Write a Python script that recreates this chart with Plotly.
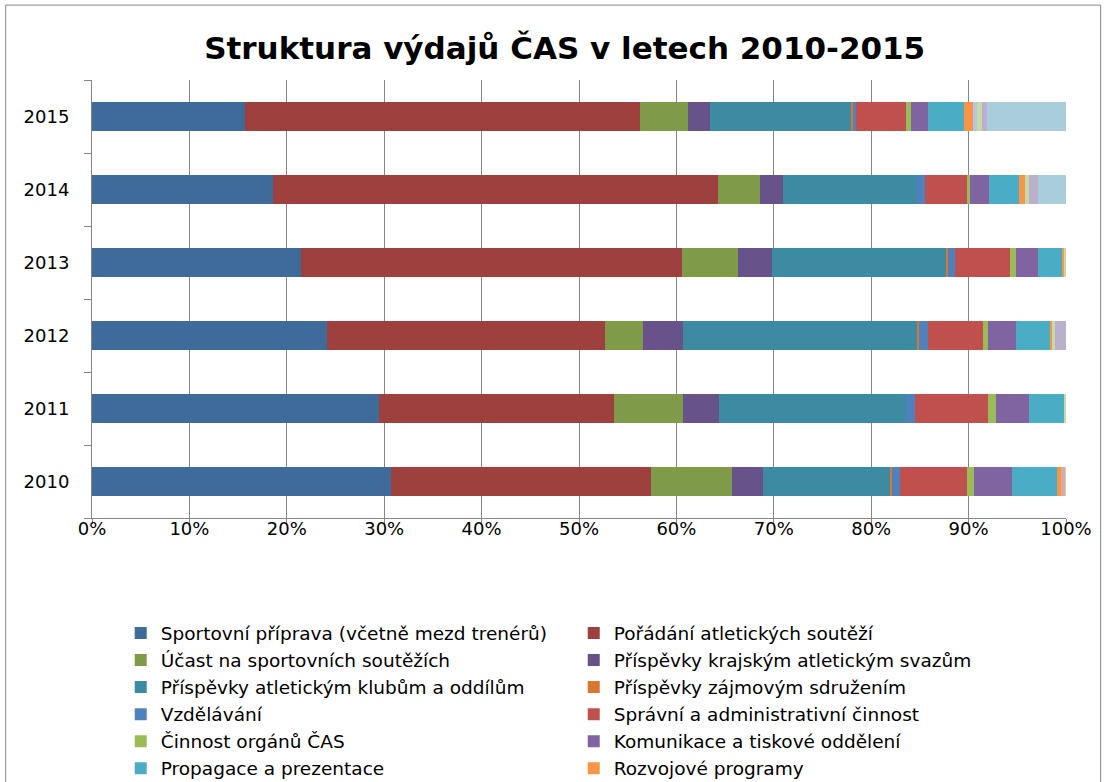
import plotly.graph_objects as go

years = ["2010", "2011", "2012", "2013", "2014", "2015"]

series_names = [
    "Sportovní příprava (včetně mezd trenérů)",
    "Pořádání atletických soutěží",
    "Účast na sportovních soutěžích",
    "Příspěvky krajským atletickým svazům",
    "Příspěvky atletickým klubům a oddílům",
    "Příspěvky zájmovým sdružením",
    "Vzdělávání",
    "Správní a administrativní činnost",
    "Činnost orgánů ČAS",
    "Komunikace a tiskové oddělení",
    "Propagace a prezentace",
    "Rozvojové programy",
    "Další položka 1",
    "Další položka 2",
    "Další položka 3",
    "Další položka 4",
    "Další položka 5",
]

# values (% share) per year, order 2010..2015
sportovni_priprava = [30.74, 29.5, 24.16, 21.5, 18.55, 15.7]
poradani_soutezi = [26.62, 24.06, 28.48, 39.04, 45.69, 40.55]
ucast_souteze = [8.32, 7.09, 3.9, 5.75, 4.31, 4.93]
prispevky_krajskym = [3.18, 3.69, 4.11, 3.49, 2.36, 2.26]
prispevky_klubum = [13.14, 19.2, 24.13, 17.97, 13.66, 14.58]
prispevky_zajmovym = [0.1, 0.0, 0.1, 0.1, 0.0, 0.2]
vzdelavani = [0.82, 0.93, 0.92, 0.75, 0.92, 0.2]
spravni_cinnost = [6.88, 7.49, 5.65, 5.6, 4.31, 5.14]
cinnost_organu = [0.72, 0.82, 0.51, 0.64, 0.31, 0.51]
komunikace = [3.9, 3.39, 2.88, 2.26, 1.95, 1.75]
propagace = [4.62, 3.6, 3.59, 2.46, 3.08, 3.7]
rozvojove_programy = [0.41, 0.0, 0.1, 0.31, 0.62, 0.95]
dalsi_1 = [0.0, 0.0, 0.0, 0.0, 0.0, 0.45]
dalsi_2 = [0.49, 0.0, 0.0, 0.0, 0.0, 0.0]
dalsi_3 = [0.06, 0.23, 0.31, 0.13, 0.41, 0.45]
dalsi_4 = [0.0, 0.0, 1.16, 0.0, 0.92, 0.51]
dalsi_5 = [0.0, 0.0, 0.0, 0.0, 2.91, 8.14]

all_values = [
    sportovni_priprava, poradani_soutezi, ucast_souteze, prispevky_krajskym,
    prispevky_klubum, prispevky_zajmovym, vzdelavani, spravni_cinnost,
    cinnost_organu, komunikace, propagace, rozvojove_programy,
    dalsi_1, dalsi_2, dalsi_3, dalsi_4, dalsi_5,
]

colors = [
    "#3F6B9B", "#9E413E", "#7F9A48", "#68528A", "#3C8BA2", "#D8772E",
    "#4F81BD", "#C0504D", "#9BBB59", "#8064A2", "#4BACC6", "#F79646",
    "#B7C5E3", "#DAA8A6", "#C6D9A9", "#B9B0CD", "#A9CDDB",
]

fig = go.Figure()
for i, (name, vals) in enumerate(zip(series_names, all_values)):
    fig.add_trace(go.Bar(
        y=years, x=vals, name=name, orientation="h",
        marker=dict(color=colors[i], line=dict(width=0)),
        showlegend=i < 12,
    ))

AX = "#868686"
fig.update_layout(
    barmode="stack",
    barnorm="percent",
    bargap=0.6,
    width=1107, height=782,
    margin=dict(l=92, r=41, t=80, b=264, autoexpand=False),
    paper_bgcolor="white", plot_bgcolor="white",
    font=dict(family="DejaVu Sans", size=18.5, color="black"),
    title=dict(
        text="<b>Struktura výdajů ČAS v letech 2010-2015</b>",
        font=dict(family="DejaVu Sans", size=31, color="black"),
        x=0.4853, xref="paper", xanchor="center",
        y=0.9386, yref="container", yanchor="middle",
    ),
    xaxis=dict(
        range=[0, 100], dtick=10, ticksuffix="%",
        showgrid=True, gridcolor=AX, gridwidth=1,
        showline=True, linecolor=AX, linewidth=1,
        ticks="outside", ticklen=5, tickcolor=AX,
        ticklabelstandoff=-11,
        zeroline=False, fixedrange=True,
        tickfont=dict(size=18),
    ),
    yaxis=dict(
        showgrid=False, showline=True, linecolor=AX, linewidth=1,
        ticks="outside", ticklen=7, tickcolor=AX, tickson="boundaries",
        ticklabelstandoff=18,
        tickfont=dict(size=18),
    ),
    legend=dict(
        orientation="h",
        x=0.0295, xanchor="left", xref="paper",
        y=-0.2203, yanchor="top", yref="paper",
        entrywidth=408, entrywidthmode="pixels",
        font=dict(size=18.5),
        traceorder="normal",
        bgcolor="rgba(0,0,0,0)",
    ),
    shapes=[dict(
        type="rect", xref="paper", yref="paper",
        x0=-0.0886, x1=1.0356, y0=-2.0, y1=1.171,
        line=dict(color=AX, width=1), fillcolor="rgba(0,0,0,0)",
        layer="below",
    )],
)

fig.write_html("out.html", config={"displayModeBar": False},
               post_script="document.body.style.margin='0';")
